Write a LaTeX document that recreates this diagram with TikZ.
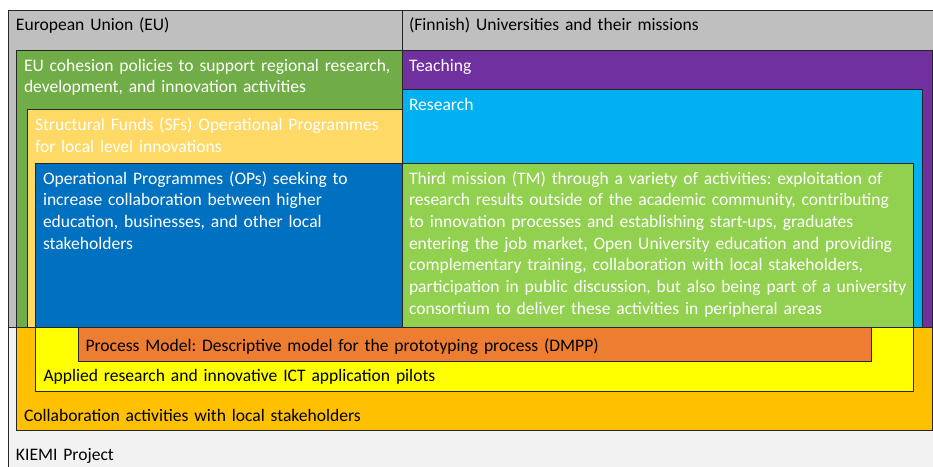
\documentclass[tikz,border=0pt]{standalone}
\usepackage{fontspec}
\setmainfont{Carlito}
\frenchspacing
\definecolor{hdrgray}{HTML}{BFBFBF}
\definecolor{kiemigray}{HTML}{F2F2F2}
\definecolor{eugreen}{HTML}{70AD47}
\definecolor{sfyellow}{HTML}{FFD966}
\definecolor{opblue}{HTML}{0070C0}
\definecolor{teachpurple}{HTML}{7030A0}
\definecolor{rescyan}{HTML}{00B0F0}
\definecolor{tmgreen}{HTML}{92D050}
\definecolor{collorange}{HTML}{FFC000}
\definecolor{appyellow}{HTML}{FFFF00}
\definecolor{procorange}{HTML}{ED7D31}
\definecolor{edge}{HTML}{262626}
\tikzset{
  panel/.style={draw=edge, line width=0.9pt},
  label/.style={anchor=base west, inner sep=0pt, outer sep=0pt, align=left,
    text width=800pt, font=\frenchspacing\fontsize{17.55}{21.7}\selectfont},
  lightlabel/.style={label, text=white},
  darklabel/.style={label, text=black}
}
\begin{document}
\begin{tikzpicture}[x=1pt,y=-1pt]
\useasboundingbox (0,0) rectangle (933,466);
\clip (0,0) rectangle (933,466);
% outer project frame
\path[panel, fill=kiemigray] (8,10) rectangle (945,480);
% headers
\path[panel, fill=hdrgray] (8,10) rectangle (402,327);
\path[panel, fill=hdrgray] (402,10) rectangle (945,327);
% bottom band
\path[panel, fill=collorange] (16,327) rectangle (932.5,430);
\path[panel, fill=appyellow] (35,327) rectangle (913,391);
\path[panel, fill=procorange] (78,327) rectangle (871,361);
% EU side
\path[panel, fill=eugreen] (16,50) rectangle (402,327);
\path[panel, fill=sfyellow] (27,109) rectangle (402,327);
\path[panel, fill=opblue] (35,163) rectangle (402,327);
% University side
\path[panel, fill=teachpurple] (402,50) rectangle (932,327);
\path[panel, fill=rescyan] (402,89) rectangle (922,327);
\path[panel, fill=tmgreen] (402,163) rectangle (913,327);
% texts
\node[darklabel] (eu) at (16,30.5) {European Union (EU)};
\node[darklabel] (uni) at (409,30.5) {(Finnish) Universities and their missions};
\node[lightlabel] (cohesion) at (24,71) {EU cohesion policies to support regional research,\\development, and innovation activities};
\node[lightlabel] (teach) at (409,71) {Teaching};
\node[lightlabel] (res) at (409,110) {Research};
\node[lightlabel] (sf) at (35,130.5) {Structural Funds (SFs) Operational Programmes\\for local level innovations};
\node[lightlabel] (ops) at (43,184) {Operational Programmes (OPs) seeking to\\increase collaboration between higher\\education, businesses, and other local\\stakeholders};
\node[lightlabel] (tm) at (409,184) {Third mission (TM) through a variety of activities: exploitation of\\research results outside of the academic community, contributing\\to innovation processes and establishing start-ups, graduates\\entering the job market, Open University education and providing\\complementary training, collaboration with local stakeholders,\\participation in public discussion, but also being part of a university\\consortium to deliver these activities in peripheral areas};
\node[darklabel] (proc) at (85.5,351.5) {Process Model: Descriptive model for the prototyping process (DMPP)};
\node[darklabel] (app) at (43.5,381.5) {Applied research and innovative ICT application pilots};
\node[darklabel] (coll) at (24,421) {Collaboration activities with local stakeholders};
\node[darklabel] (kiemi) at (16,460.5) {KIEMI Project};
\end{tikzpicture}
\end{document}
